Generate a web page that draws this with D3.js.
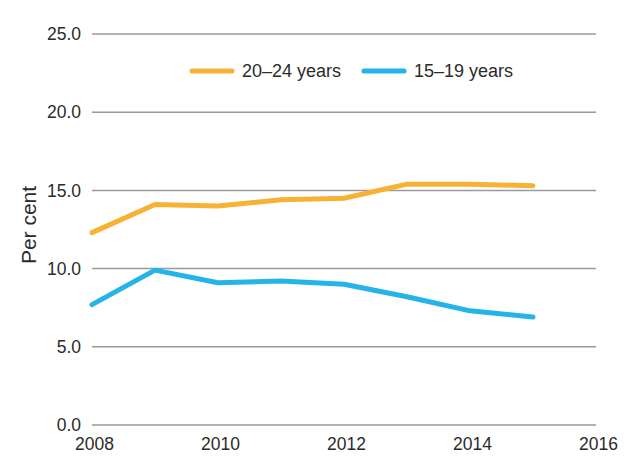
<!DOCTYPE html>
<html>
<head>
<meta charset="utf-8">
<script src="https://cdn.jsdelivr.net/npm/d3@7"></script>
<style>
  body { margin: 0; background: #fff; }
  text { font-family: "Liberation Sans", Arial, sans-serif; fill: #2b2b2b; }
</style>
</head>
<body>
<svg id="chart" width="640" height="472"></svg>
<script>
/*
Chart data
*/
var years = [2008, 2009, 2010, 2011, 2012, 2013, 2014, 2015];
var olderValues = [12.3, 14.1, 14.0, 14.4, 14.5, 15.4, 15.4, 15.3];
var youngerValues = [7.7, 9.9, 9.1, 9.2, 9.0, 8.2, 7.3, 6.9];
var seriesNames = ["20\u201324 years", "15\u201319 years"];
var yTicks = [0, 5, 10, 15, 20, 25];
var xTicks = [2008, 2010, 2012, 2014, 2016];

var colors = ["#f7b234", "#25b4e8"];

/*
Draw
*/
function drawChart(){
  let svg = d3.select("#chart");
  let left = 92, right = 596, top = 34, bottom = 425;

  let x = d3.scaleLinear().domain([2008, 2016]).range([left, right]);
  let y = d3.scaleLinear().domain([0, 25]).range([bottom, top]);

  // gridlines
  svg.append("g")
     .selectAll("line")
     .data(yTicks)
     .enter()
     .append("line")
     .attr("x1", left)
     .attr("x2", right)
     .attr("y1", function(d){ return y(d); })
     .attr("y2", function(d){ return y(d); })
     .style("stroke", "#9a9a9a")
     .style("stroke-width", 1.5);

  // y axis labels
  let yAxis = d3.axisLeft(y).tickValues(yTicks).tickSize(0).tickPadding(11)
                .tickFormat(d3.format(".1f"));
  let yg = svg.append("g").attr("transform", "translate(" + left + ",0)").call(yAxis);
  yg.select(".domain").remove();
  yg.selectAll("text").style("font-size", "17.5px").style("font-family", "'Liberation Sans', Arial, sans-serif").attr("fill", "#333");

  // x axis labels
  let xAxis = d3.axisBottom(x).tickValues(xTicks).tickSize(0).tickPadding(13)
                .tickFormat(d3.format("d"));
  let xg = svg.append("g").attr("transform", "translate(2," + bottom + ")").call(xAxis);
  xg.select(".domain").remove();
  xg.selectAll("text").style("font-size", "17.5px").style("font-family", "'Liberation Sans', Arial, sans-serif").attr("fill", "#333");

  // axis title
  svg.append("text")
     .attr("transform", "translate(36,225) rotate(-90)")
     .attr("text-anchor", "middle")
     .style("font-size", "21px")
     .text("Per cent");

  // lines
  let line = d3.line()
               .x(function(d,i){ return x(years[i]); })
               .y(function(d){ return y(d); });

  [olderValues, youngerValues].forEach(function(vals, i){
    svg.append("path")
       .datum(vals)
       .attr("d", line)
       .style("fill", "none")
       .style("stroke", colors[i])
       .style("stroke-width", 5)
       .style("stroke-linecap", "round")
       .style("stroke-linejoin", "round");
  });

  // legend
  let legendX = [192, 364];
  let legend = svg.selectAll(".legend")
                  .data(seriesNames)
                  .enter()
                  .append("g")
                  .attr("class", "legend")
                  .attr("transform", function(d,i){ return "translate(" + legendX[i] + ",71)"; });
  legend.append("line")
        .attr("x1", 0).attr("x2", 40)
        .style("stroke", function(d,i){ return colors[i]; })
        .style("stroke-width", 5)
        .style("stroke-linecap", "round");
  legend.append("text")
        .attr("x", 50)
        .attr("dy", ".35em")
        .style("font-size", "18px")
        .text(function(d){ return d; });
}

drawChart();
</script>
</body>
</html>
